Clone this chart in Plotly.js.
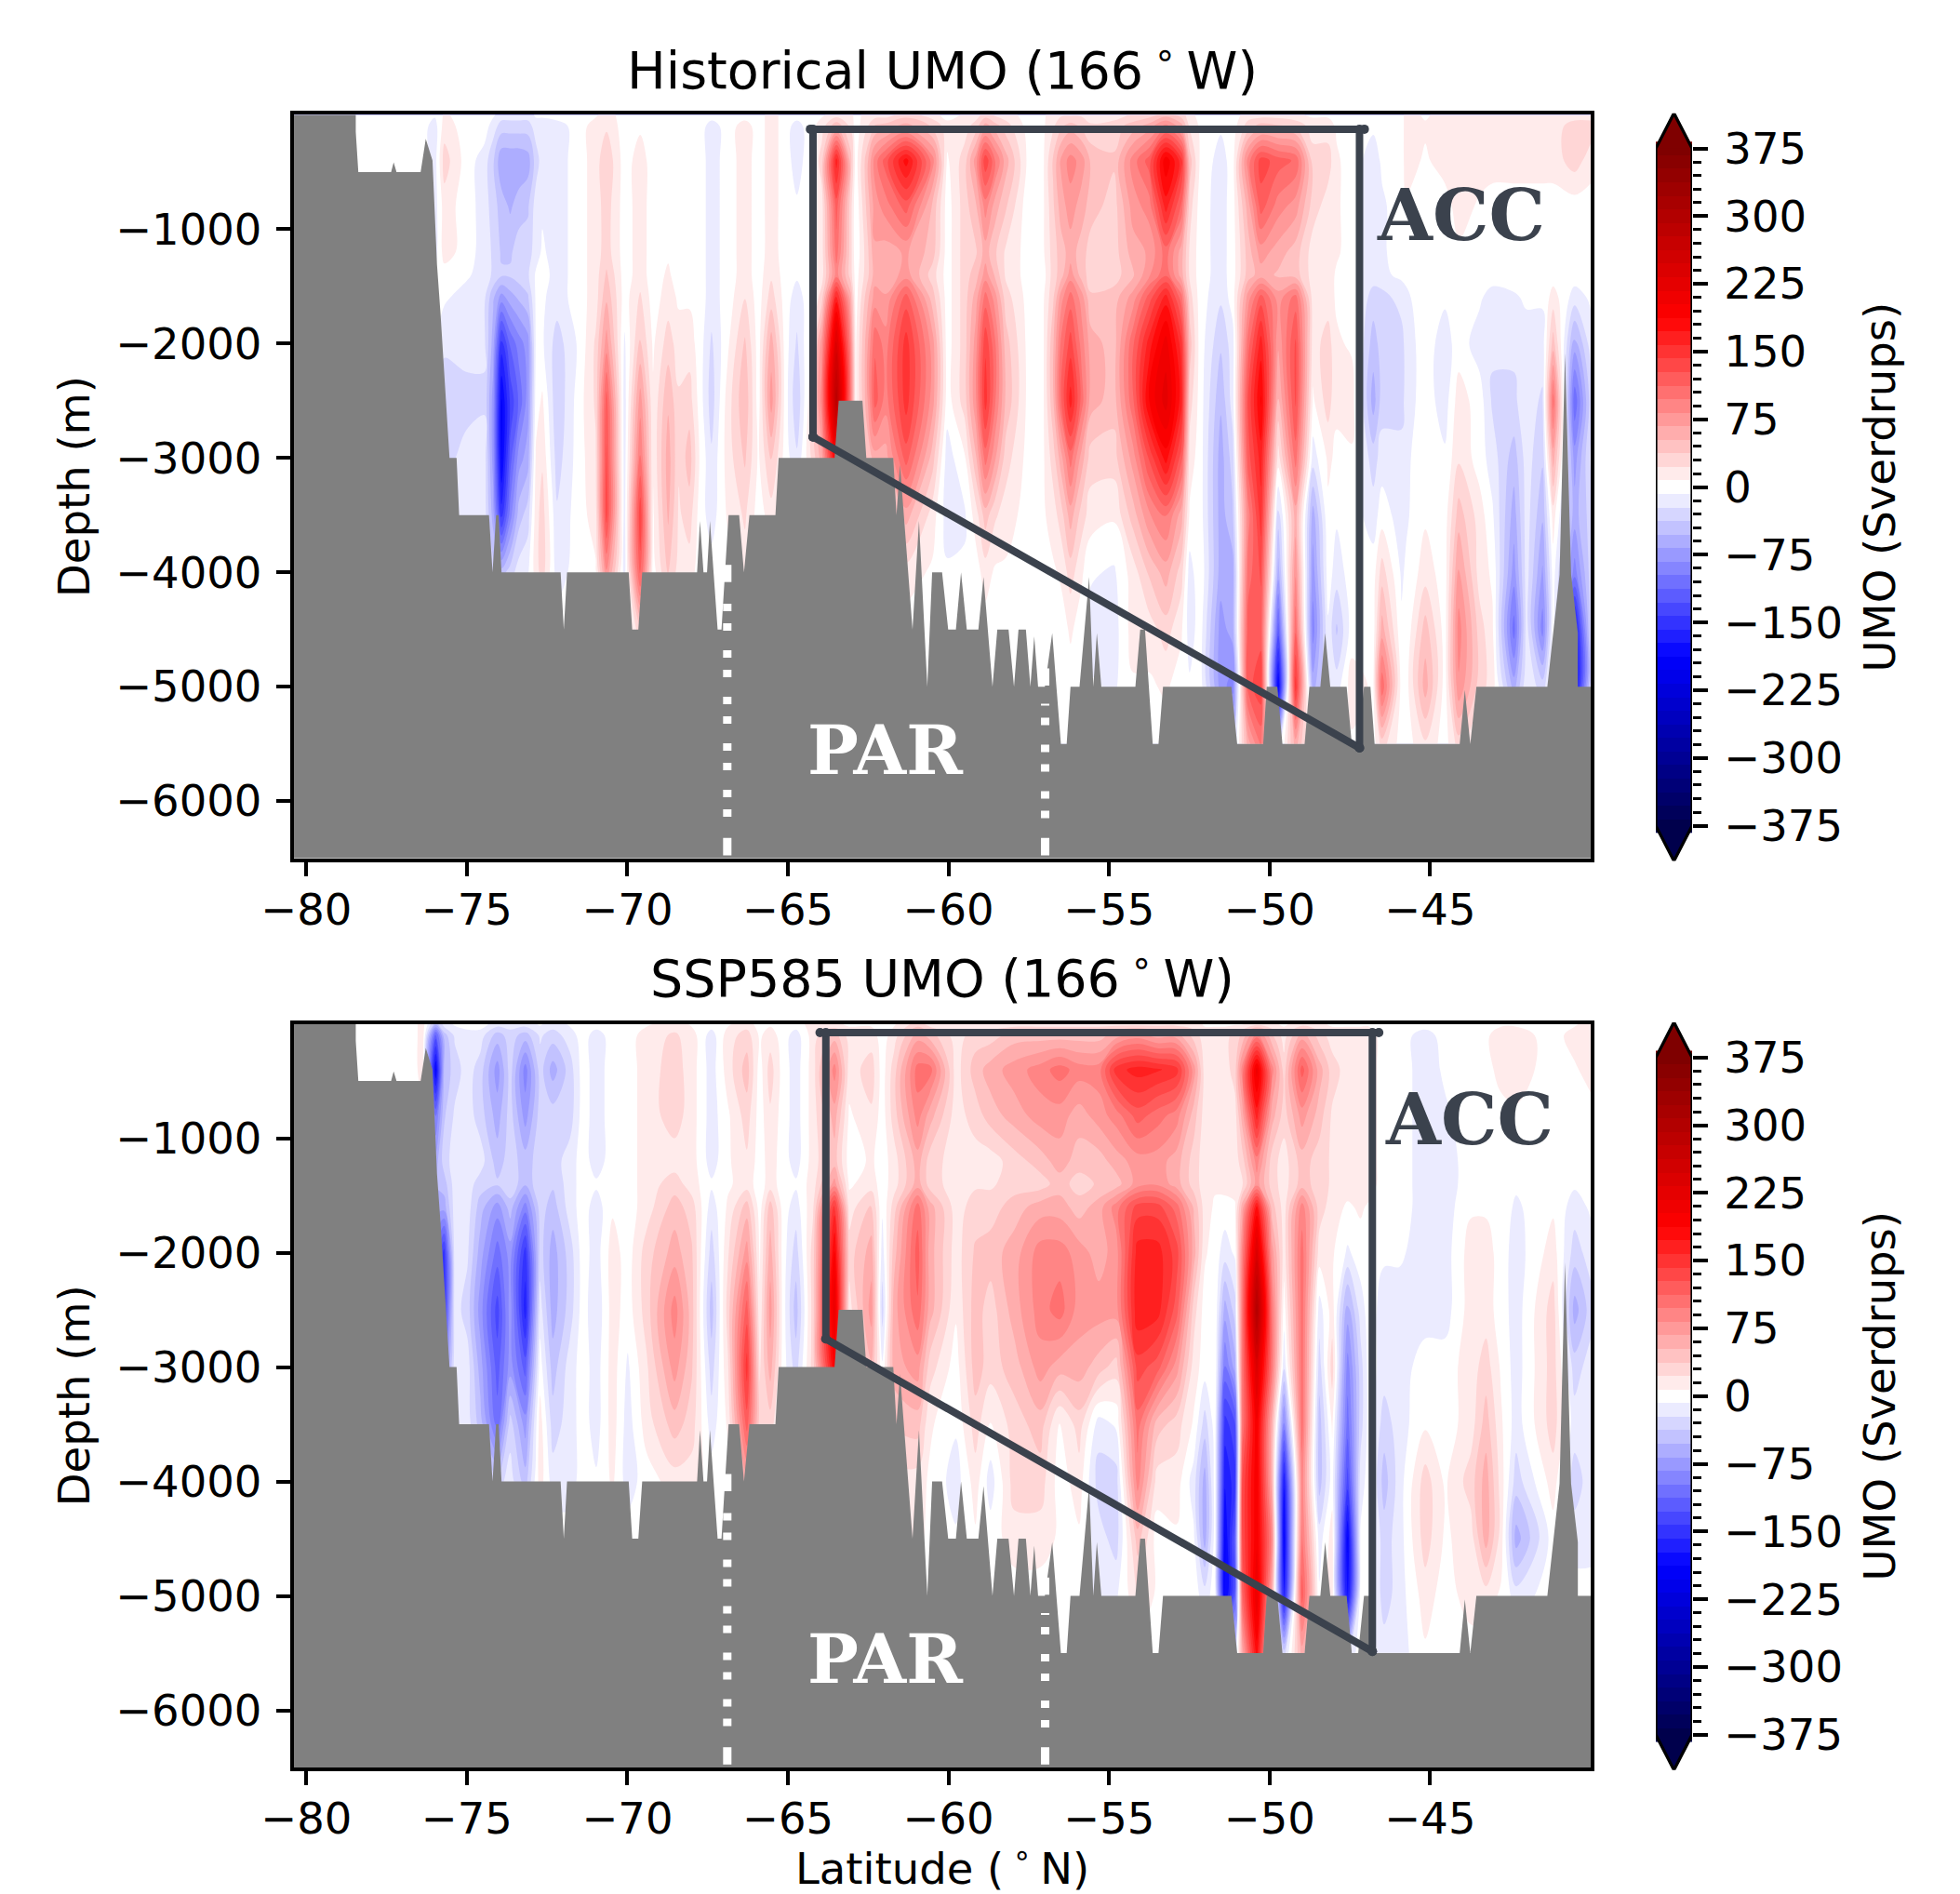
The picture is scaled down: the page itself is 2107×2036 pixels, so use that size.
<!DOCTYPE html>
<html><head><meta charset="utf-8">
<script src="https://cdn.plot.ly/plotly-3.0.1.min.js"></script>
<style>html,body{margin:0;padding:0;background:#fff}</style>
</head><body><div id="chart" style="width:2107px;height:2036px"></div>
<script>
// ---- data ----
const depthLevels = [0,-100,-400,-800,-1200,-1400,-1600,-2000,-2500,-3000,-3500,-4000,-4500,-5000,-5500];

const histLat = [-80.5,-76.4,-76.0,-75.7,-75.0,-74.45,-74.18,-73.92,-73.65,-73.38,-73.1,-72.85,-72.65,-72.19,-71.52,-70.99,-70.65,-70.09,-69.6,-69.2,-68.73,-68.4,-68.07,-67.74,-67.38,-66.87,-66.34,-65.92,-65.52,-65.08,-64.72,-64.35,-63.95,-63.49,-63.05,-62.89,-62.55,-62.29,-61.96,-61.32,-60.5,-60.04,-59.5,-59.15,-58.85,-58.55,-58.22,-57.48,-57.05,-56.74,-56.5,-56.2,-55.85,-55.57,-54.85,-54.25,-53.75,-53.23,-52.75,-52.49,-52.16,-51.52,-51.15,-50.67,-50.27,-49.73,-49.19,-48.65,-48.18,-47.91,-47.44,-46.77,-46.5,-45.89,-45.75,-45.15,-44.54,-44.11,-43.46,-43.06,-42.39,-42.0,-41.5,-41.17,-40.5,-40];
const histColumns = [
[0,0,0,0,0,0,0,0,0,0,0,0,0,0,0],
[0,0,0,0,0,0,0,0,0,0,0,0,0,0,0],
[-5,-15,-15,-15,-15,-5,-5,-5,0,0,0,0,0,0,0],
[10,15,30,15,15,0,-5,-20,-30,-30,-15,0,0,0,0],
[0,0,0,0,0,-5,-15,-15,-30,-15,-15,-15,0,0,0],
[0,0,-15,-15,-15,-15,-20,-20,-25,-15,-15,-15,0,0,0],
[-5,-15,-35,-30,-25,-25,-50,-60,-75,-75,-60,-30,0,0,0],
[-15,-30,-65,-45,-40,-35,-75,-150,-190,-190,-150,-45,0,0,0],
[-15,-30,-65,-55,-40,-35,-60,-110,-140,-120,-90,-30,0,0,0],
[-15,-30,-65,-45,-30,-30,-50,-90,-110,-75,-45,-15,0,0,0],
[-15,-30,-60,-40,-30,-25,-40,-75,-75,-60,-30,-10,0,0,0],
[-5,-15,-30,-15,-15,-5,-5,-5,0,10,15,15,0,0,0],
[-5,-15,-15,-10,-5,0,-5,-5,10,20,30,30,0,0,0],
[0,-15,-15,-15,-15,-15,-15,-30,-35,-30,-20,-15,0,0,0],
[0,0,0,0,0,0,0,-5,0,0,0,0,0,0,0],
[5,15,15,15,15,15,15,25,25,20,15,5,0,0,0],
[15,20,35,30,30,40,50,75,120,130,135,80,0,0,0],
[0,0,0,0,0,0,0,-10,-15,-15,-15,-15,0,0,0],
[0,5,15,15,15,15,25,40,75,100,140,120,30,0,0],
[0,0,0,0,0,0,0,5,10,10,5,0,0,0,0],
[0,0,0,0,5,10,15,30,50,60,55,40,0,0,0],
[0,0,0,0,0,0,5,15,25,25,20,15,0,0,0],
[0,0,0,0,0,0,5,15,30,45,30,15,0,0,0],
[0,0,0,0,0,0,0,0,0,5,0,0,0,0,0],
[0,-15,-15,-15,-15,-15,-15,-25,-30,-20,-15,0,0,0,0],
[0,0,0,0,0,0,0,5,15,15,10,0,0,0,0],
[0,15,15,15,15,15,22,40,50,40,25,15,0,0,0],
[0,0,0,0,0,0,0,0,0,5,0,0,0,0,0],
[15,15,15,15,15,20,30,60,75,40,15,0,0,0,0],
[0,0,0,0,0,0,0,0,0,0,0,0,0,0,0],
[0,-15,-15,-5,-5,-5,-15,-25,-35,-20,0,0,0,0,0],
[0,0,0,0,0,0,0,5,10,15,5,0,0,0,0],
[5,15,30,15,15,15,30,75,90,60,15,0,0,0,0],
[15,50,165,120,105,90,165,240,290,200,100,0,0,0,0],
[15,20,45,30,30,30,60,90,100,60,15,0,0,0,0],
[0,0,0,-5,-5,0,0,5,5,5,0,0,0,0,0],
[15,20,45,40,30,30,45,60,60,40,10,0,0,0,0],
[15,40,90,75,65,60,75,110,120,60,15,0,0,0,0],
[15,45,120,90,60,55,70,90,90,60,15,0,0,0,0],
[30,60,180,120,70,75,120,150,150,120,60,15,0,0,0],
[15,35,90,50,45,30,45,75,75,45,15,5,0,0,0],
[0,15,5,0,0,0,0,0,0,-15,-15,-5,0,0,0],
[10,15,30,30,30,30,30,30,30,5,-10,-5,0,0,0],
[15,30,75,50,35,45,60,75,80,50,15,0,0,0,0],
[30,60,140,90,60,75,105,140,150,105,45,15,0,0,0],
[20,45,100,60,40,50,75,100,100,70,25,5,0,0,0],
[15,30,60,40,20,20,30,45,50,30,15,5,0,0,0],
[0,0,0,-5,0,0,0,0,0,0,0,0,0,0,0],
[5,5,5,5,5,0,5,5,5,5,5,0,0,0,0],
[15,20,40,35,30,30,35,50,50,30,15,5,0,0,0],
[20,35,70,60,45,45,75,100,110,60,30,10,0,0,0],
[20,45,90,75,60,75,105,135,165,105,60,30,10,0,0],
[20,35,75,60,45,45,75,90,105,60,30,10,0,0,0],
[15,25,50,45,30,30,40,60,60,30,15,-5,-15,-5,0],
[15,30,40,30,30,30,45,45,45,30,10,-10,-15,-10,0],
[25,45,90,75,60,50,75,110,110,75,45,15,15,5,0],
[30,60,120,90,70,80,120,165,190,130,80,40,15,5,0],
[45,90,200,165,105,110,165,210,225,180,100,60,30,10,0],
[30,60,150,110,60,60,105,150,165,120,60,30,10,0,0],
[15,20,45,30,20,20,30,45,30,15,5,-15,-15,-5,0],
[0,5,5,0,0,0,0,0,0,0,0,5,0,0,0],
[0,-5,-15,-15,-15,-15,-20,-35,-50,-60,-60,-60,-75,-75,-15],
[0,0,0,0,0,0,0,-15,-15,-30,-40,-60,-60,-90,-30],
[15,30,90,60,45,45,75,105,130,120,90,105,120,120,60],
[15,45,135,120,75,60,120,165,190,165,150,130,120,140,100],
[15,40,120,90,60,50,75,70,50,15,-30,-60,-120,-190,-20],
[10,35,110,75,45,45,105,130,130,105,60,80,110,150,60],
[5,15,30,30,15,15,15,15,5,-15,-60,-75,-90,-60,-5],
[5,15,30,15,15,15,15,30,30,10,5,0,-10,-15,0],
[0,5,10,10,10,5,5,10,10,5,-5,-15,-40,-15,0],
[0,0,0,0,0,0,0,5,15,5,0,0,0,15,5],
[0,-5,-15,-15,-15,-15,-30,-45,-60,-30,-15,0,0,5,0],
[0,0,-5,-10,-10,-10,-30,-30,-30,-15,0,30,60,110,30],
[0,0,0,0,0,-5,-15,-30,-30,-15,-15,-10,-5,0,0],
[15,15,15,5,0,-5,-10,-15,-15,-10,-10,-5,-5,0,0],
[5,10,5,0,0,0,0,0,0,0,5,15,45,60,20],
[15,15,15,0,0,0,-5,-15,-15,-5,0,0,0,0,0],
[15,15,15,15,5,0,0,0,15,20,45,70,90,80,30],
[15,15,15,5,0,0,-5,-15,0,0,15,15,30,30,5],
[15,15,15,0,0,0,-15,-20,-25,-15,-5,5,10,15,0],
[15,15,15,0,0,0,-10,-20,-25,-45,-60,-75,-105,-60,0],
[15,15,15,0,0,0,-5,-15,-15,-15,-15,-15,-15,-10,0],
[15,15,15,0,0,0,-5,-15,-25,-35,-50,-70,-90,-30,0],
[15,15,15,0,0,0,15,45,105,60,15,0,0,0,0],
[15,30,30,0,0,0,-15,-60,-110,-75,-60,-90,-180,-190,0],
[15,30,15,0,0,0,-5,-15,-30,-20,-30,-30,-30,-30,0]
];

const sspLat = [-80.5,-76.7,-76.37,-75.97,-75.71,-75.38,-74.98,-74.58,-74.05,-73.65,-73.18,-72.72,-72.32,-71.79,-71.39,-70.97,-70.46,-69.99,-69.4,-68.53,-68.0,-67.38,-66.87,-66.28,-65.88,-65.55,-65.15,-64.75,-64.22,-63.55,-63.09,-62.4,-62.06,-61.7,-60.96,-60.58,-59.77,-59.16,-58.69,-57.95,-57.14,-56.54,-55.93,-55.32,-54.78,-54.11,-53.5,-52.9,-52.36,-52.02,-51.7,-51.39,-51.08,-50.85,-50.4,-49.93,-49.55,-48.99,-48.45,-48.05,-47.57,-47.17,-46.9,-46.43,-45.96,-45.15,-44.54,-43.73,-43.26,-42.79,-42.32,-41.17,-40.5,-40];
const sspColumns = [
[0,0,0,0,0,0,0,0,0,0,0,0,0,0,0],
[0,0,0,0,0,0,0,0,0,0,0,0,0,0,0],
[15,15,15,5,0,0,0,0,0,0,0,0,0,0,0],
[-45,-120,-190,-100,-60,-50,-60,-100,-120,-90,0,0,0,0,0],
[-15,-45,-50,-40,-30,-45,-60,-150,-150,-90,-30,0,0,0,0],
[-5,-20,-30,-20,-15,-15,-15,-15,-15,-15,-15,0,0,0,0],
[0,-15,-15,-15,-15,-15,-15,-20,-30,-15,-15,-5,0,0,0],
[0,-15,-30,-30,-15,-30,-45,-60,-75,-60,-45,-15,0,0,0],
[-15,-45,-75,-60,-45,-35,-75,-105,-135,-120,-105,-30,0,0,0],
[-15,-30,-30,-30,-30,-25,-45,-75,-75,-75,-30,-15,0,0,0],
[-15,-45,-90,-75,-45,-50,-90,-150,-165,-120,-75,-45,0,0,0],
[-5,-20,-30,-30,-30,-25,-30,-30,-15,0,15,15,0,0,0],
[-15,-30,-60,-30,-30,-35,-45,-60,-60,-45,-30,-15,0,0,0],
[-5,-15,-30,-30,-15,-15,-15,-30,-30,-15,-15,-15,0,0,0],
[0,0,0,0,0,0,0,0,0,0,0,0,0,0,0],
[0,-15,-15,-15,-15,-5,-15,-15,-20,-15,-15,-5,0,0,0],
[0,0,0,0,0,0,5,15,15,15,15,10,0,0,0],
[0,0,0,0,0,0,0,0,0,-10,-15,-15,0,0,0],
[5,15,15,15,15,15,15,30,30,20,15,0,0,0,0],
[15,25,30,30,15,30,45,60,90,75,45,15,0,0,0],
[5,15,15,15,15,15,30,40,45,40,30,15,0,0,0],
[0,-15,-15,-15,-15,-5,-15,-30,-45,-30,-15,0,0,0,0],
[5,15,15,5,5,5,10,20,30,20,10,0,0,0,0],
[15,30,45,30,20,15,45,75,120,150,120,60,15,0,0],
[0,5,0,0,0,0,0,5,10,20,30,0,0,0,0],
[5,15,30,20,15,15,45,60,75,60,30,10,0,0,0],
[0,0,0,0,0,0,0,0,0,0,0,0,0,0,0],
[0,-15,-15,-15,-15,-5,-15,-30,-45,-30,-15,0,0,0,0],
[15,15,15,15,15,15,20,30,30,30,30,0,0,0,0],
[10,45,90,60,45,75,150,190,220,190,60,0,0,0,0],
[5,15,15,5,0,5,15,30,15,5,0,0,0,0,0],
[5,15,30,20,10,15,40,60,75,50,15,0,0,0,0],
[0,0,0,0,0,0,-5,-15,-30,-5,0,0,0,0,0],
[5,15,30,30,15,15,30,45,60,60,40,15,0,0,0],
[30,60,105,90,60,60,105,120,110,75,45,15,15,0,0],
[15,45,105,60,30,30,60,60,60,30,10,5,0,0,0],
[10,15,15,15,15,15,15,15,10,0,-5,-15,-5,0,0],
[15,30,45,30,15,20,30,40,45,45,30,15,5,0,0],
[15,30,60,45,15,20,30,45,30,30,5,-15,0,0,0],
[15,45,75,60,30,30,45,60,60,45,30,30,15,0,0],
[15,45,90,75,45,30,60,90,90,75,45,30,15,0,0],
[15,45,105,75,60,45,60,90,105,60,5,0,5,0,0],
[15,45,90,60,45,30,45,75,75,60,30,15,5,0,0],
[15,45,90,75,45,40,60,60,75,45,-15,-30,-15,-10,0],
[15,60,150,90,60,45,90,75,75,30,-5,-30,-30,-10,0],
[15,75,165,120,75,75,135,165,170,135,105,90,45,20,0],
[15,60,160,105,75,80,135,165,165,120,45,15,0,5,0],
[15,60,150,90,60,60,105,135,120,75,30,15,5,0,0],
[15,30,75,45,30,30,50,60,30,15,5,-15,-5,0,0],
[5,15,15,15,15,15,15,10,0,0,-30,-60,-60,-15,0],
[5,15,15,15,15,10,5,0,5,5,0,0,0,0,0],
[5,15,15,15,15,15,0,-15,-60,-100,-150,-170,-190,-190,-20],
[5,30,30,15,15,15,5,-5,-30,-60,-130,-150,-120,-120,-30],
[5,40,90,60,30,20,60,90,100,100,100,130,130,110,60],
[15,90,210,165,90,75,175,240,300,240,200,200,200,215,180],
[10,40,90,60,30,30,45,75,100,100,60,60,90,60,10],
[5,15,30,30,15,15,15,15,0,-20,-90,-170,-190,-170,-30],
[15,60,120,75,45,45,90,105,105,105,105,90,100,120,60],
[10,30,60,45,30,30,30,15,-15,-30,-45,-45,-15,-5,0],
[5,15,30,20,20,20,15,10,15,30,10,0,15,15,0],
[5,15,15,15,15,15,5,-10,-60,-90,-105,-135,-190,-180,-20],
[5,15,15,15,15,15,10,0,-15,-30,-30,-15,-5,0,0],
[5,15,15,15,15,15,5,0,0,0,0,0,0,0,0],
[0,0,0,0,0,0,0,-5,-15,-15,-30,-45,-30,-30,-15],
[0,0,0,0,0,0,0,-5,-15,-15,-15,-15,-15,-15,-15],
[0,-15,-15,-15,-15,-15,-15,-15,-15,0,5,30,30,15,5],
[0,0,-5,-10,-15,-15,-15,-15,-15,0,0,5,5,0,0],
[5,5,0,0,0,0,5,15,15,15,15,30,15,15,0],
[5,5,0,0,0,0,5,15,15,30,45,60,60,15,0],
[5,15,15,0,0,0,0,0,0,5,10,15,15,5,0],
[5,15,15,5,0,-5,-10,-15,-15,-15,-15,-30,-60,-15,0],
[0,0,0,0,0,0,5,15,30,30,30,15,0,0,0],
[5,15,5,0,0,-5,-15,-30,-60,-30,-15,-30,-15,0,0],
[15,15,15,0,0,0,-5,-15,-30,-15,-15,-15,-15,0,0]
];

// sea floor outline (shared by both panels)
const floorLat = [-80.5,-78.46,-78.46,-78.38,-77.36,-77.28,-77.19,-76.44,-76.28,-76.07,-75.93,-75.82,-75.54,-75.32,-75.24,-74.31,-74.2,-74.09,-74.01,-73.92,-72.08,-71.98,-71.88,-69.96,-69.85,-69.66,-69.54,-67.83,-67.74,-67.63,-67.52,-67.43,-67.19,-67.07,-66.85,-66.52,-66.37,-66.2,-65.39,-65.29,-63.55,-63.42,-62.68,-62.56,-61.72,-61.62,-61.51,-61.12,-60.92,-60.66,-60.51,-60.2,-60.01,-59.77,-59.61,-59.43,-59.07,-58.91,-58.63,-58.48,-58.13,-57.96,-57.82,-57.59,-57.45,-57.33,-57.21,-57.0,-56.77,-56.5,-56.32,-56.2,-55.92,-55.62,-55.49,-55.38,-55.24,-54.18,-54.03,-53.88,-53.64,-53.46,-53.32,-51.19,-51.01,-50.2,-50.09,-49.76,-49.6,-48.91,-48.76,-48.42,-48.27,-48.11,-47.6,-47.44,-47.24,-47.06,-46.86,-46.73,-44.08,-43.92,-43.75,-43.56,-41.35,-40.97,-40.8,-40.61,-40.4,-40.4,-39.9,-39.9,-80.5];
const floorDepth = [100,100,-150,-500,-500,-415,-500,-500,-210,-400,-1310,-1740,-3000,-3000,-3500,-3500,-4000,-3500,-3500,-4000,-4000,-4500,-4000,-4000,-4500,-4500,-4000,-4000,-3550,-4000,-4000,-3550,-4500,-4500,-3500,-3500,-4000,-3500,-3500,-3000,-3000,-2500,-2500,-3000,-3000,-3500,-3060,-4500,-3550,-5000,-4000,-4000,-4500,-4500,-4000,-4500,-4500,-4040,-5000,-4500,-4500,-5000,-4500,-4500,-5000,-4560,-5000,-5000,-4530,-5500,-5500,-5000,-5000,-4040,-5000,-4530,-5000,-5000,-4500,-4500,-5500,-5500,-5000,-5000,-5500,-5500,-5000,-5000,-5500,-5500,-5000,-5000,-4530,-5000,-5000,-5500,-5500,-5000,-5000,-5500,-5500,-5030,-5500,-5000,-5000,-4020,-2085,-4020,-4530,-5000,-5000,-7000,-7000];

const yTickVals = [-6000,-5000,-4000,-3000,-2000,-1000];
const xTickVals = [-80,-75,-70,-65,-60,-55,-50,-45];
const cbTickVals = [-375,-300,-225,-150,-75,0,75,150,225,300,375];
const cbMinorVals = [-360,-345,-330,-315,-285,-270,-255,-240,-210,-195,-180,-165,-135,-120,-105,-90,-60,-45,-30,-15,15,30,45,60,90,105,120,135,165,180,195,210,240,255,270,285,315,330,345,360];
const cbLevels = [-375,-360,-345,-330,-315,-300,-285,-270,-255,-240,-225,-210,-195,-180,-165,-150,-135,-120,-105,-90,-75,-60,-45,-30,-15,0,15,30,45,60,75,90,105,120,135,150,165,180,195,210,225,240,255,270,285,300,315,330,345,360,375];

// ACC box and PAR boundary lines
const histBoxLat = [-64.3,-47.05,null,-47.2,-47.2,null,-47.2,-64.22,null,-64.22,-64.22];
const histBoxDepth = [-126,-126,null,-126,-5535,null,-5535,-2816,null,-2816,-126];
const sspBoxLat = [-64.0,-46.6,null,-46.8,-46.8,null,-46.8,-63.82,null,-63.82,-63.82];
const sspBoxDepth = [-77,-77,null,-77,-5486,null,-5486,-2754,null,-2754,-77];
const parWestLat = -66.89, parEastLat = -56.99;

// ---- styles ----
const seismic = [[0,'rgb(0,0,76)'],[0.25,'rgb(0,0,255)'],[0.5,'rgb(255,255,255)'],[0.75,'rgb(255,0,0)'],[1,'rgb(127,0,0)']];
const SLATE = '#3b424d', FS = 46.5, W = 2107, H = 2036;
const FONT = 'DejaVu Sans, sans-serif', SERIF = 'DejaVu Serif, serif';
const transpose = cols => cols[0].map((_, r) => cols.map(c => c[r]));

function panel(lat, cols, boxLat, boxDepth, xa, ya) {
  const base = {xaxis: xa, yaxis: ya, showlegend: false, hoverinfo: 'skip'};
  const tr = [];
  tr.push({...base, type: 'contour', x: lat, y: depthLevels, z: transpose(cols),
    colorscale: seismic, zmin: -375, zmax: 375, autocontour: false, showscale: false,
    contours: {coloring: 'fill', start: -367.5, end: 367.5, size: 15, showlines: false},
    line: {width: 0}});
  tr.push({...base, type: 'scatter', mode: 'lines', x: floorLat, y: floorDepth, fill: 'toself',
    fillcolor: '#808080', line: {width: 0, color: '#808080'}});
  tr.push({...base, type: 'scatter', mode: 'lines+markers', x: boxLat, y: boxDepth, connectgaps: false,
    line: {color: SLATE, width: 8}, marker: {color: SLATE, size: 10}});
  [[parWestLat,-6138,-4257,-6474,-6323,-4085,-3935],[parEastLat,-6150,-5150,-6474,-6323,-4990,-4840]].forEach(p => {
    tr.push({...base, type: 'scatter', mode: 'lines', x: [p[0],p[0]], y: [p[1],p[2]],
      line: {color: '#fff', width: 9, dash: '8px,13px,8px,21px'}});
    tr.push({...base, type: 'scatter', mode: 'lines', x: [p[0],p[0],null,p[0],p[0]], y: [p[3],p[4],null,p[5],p[6]],
      connectgaps: false, line: {color: '#fff', width: 9}});
  });
  return tr;
}
function colorbar(xa, ya) {
  const base = {xaxis: xa, yaxis: ya, showlegend: false, hoverinfo: 'skip'};
  return [
    {...base, type: 'heatmap', x: [0.5], y: cbLevels, z: cbLevels.map(v => [v]), colorscale: seismic, zmin: -375, zmax: 375, showscale: false, xgap: 0, ygap: 0},
    {...base, type: 'scatter', mode: 'lines', x: [0,0.5,1,0], y: [375,414,375,375], fill: 'toself', fillcolor: 'rgb(127,0,0)', line: {width: 0}},
    {...base, type: 'scatter', mode: 'lines', x: [0,0.5,1,0], y: [-375,-414,-375,-375], fill: 'toself', fillcolor: 'rgb(0,0,76)', line: {width: 0}},
    {...base, type: 'scatter', mode: 'lines', x: [0,0,0.5,1,1,0.5,0], y: [-375,375,414,375,-375,-414,-375], line: {color: '#000', width: 3.3}, cliponaxis: false}
  ];
}
const data = [
  ...panel(histLat, histColumns, histBoxLat, histBoxDepth, 'x', 'y'),
  ...panel(sspLat, sspColumns, sspBoxLat, sspBoxDepth, 'x2', 'y2'),
  ...colorbar('x3', 'y3'),
  ...colorbar('x4', 'y4')
];

const py = p => 1 - p / H, px = p => p / W;
const mainX = (anchor, title) => {
  const a = {anchor, domain: [px(316), px(1710)], range: [-80.385, -40], tickmode: 'array', tickvals: xTickVals,
  ticks: 'outside', ticklen: 15.5, tickwidth: 3.5, tickcolor: '#000', showline: true, mirror: true, linewidth: 3.5, linecolor: '#000',
  showgrid: false, zeroline: false, ticklabelstandoff: -4, tickfont: {family: FONT, size: FS, color: '#000'}};
  if (title) a.title = title;
  return a;
};
const mainY = (anchor, top, bot) => ({anchor, domain: [py(bot), py(top)], range: [-6500, 0], tickmode: 'array', tickvals: yTickVals,
  ticks: 'outside', ticklen: 15.5, tickwidth: 3.5, tickcolor: '#000', showline: true, mirror: true, linewidth: 3.5, linecolor: '#000',
  showgrid: false, zeroline: false, ticklabelstandoff: 6, tickfont: {family: FONT, size: FS, color: '#000'},
  title: {text: 'Depth (m)', font: {family: FONT, size: FS, color: '#000'}, standoff: 14}});
const cbX = anchor => ({anchor, domain: [px(1780), px(1819)], range: [0, 1], visible: false, fixedrange: true});
const cbY = (anchor, top, bot) => ({anchor, side: 'right', domain: [py(bot), py(top)], range: [-414, 414], tickmode: 'array', tickvals: cbTickVals,
  ticks: 'outside', ticklen: 16, tickwidth: 3.5, tickcolor: '#000', showgrid: false, zeroline: false, showline: false, ticklabelstandoff: 8,
  minor: {tickmode: 'array', tickvals: cbMinorVals, ticks: 'outside', ticklen: 9, tickwidth: 2.5, tickcolor: '#000', showgrid: false},
  tickfont: {family: FONT, size: FS, color: '#000'},
  title: {text: 'UMO (Sverdrups)', font: {family: FONT, size: FS, color: '#000'}, standoff: 24}});
const label = (text, x, y, size, color, xref, yref) => ({text: '<b>' + text + '</b>', x, y, xref, yref, showarrow: false, xanchor: 'center', yanchor: 'middle', font: {family: SERIF, size, color}});
const title = (text, cx, cy) => ({text, x: px(cx), y: py(cy), xref: 'paper', yref: 'paper', xanchor: 'center', yanchor: 'middle', showarrow: false, font: {family: FONT, size: 55.5, color: '#000'}});

const layout = {
  width: W, height: H, margin: {l: 0, r: 0, t: 0, b: 0}, paper_bgcolor: '#fff', plot_bgcolor: '#fff',
  xaxis: mainX('y'),
  yaxis: mainY('x', 123.4, 922.6),
  xaxis2: mainX('y2', {text: 'Latitude (\u2009<sup>∘</sup>\u2009N)', font: {family: FONT, size: FS, color: '#000'}, standoff: 30}),
  yaxis2: mainY('x2', 1100.6, 1900),
  xaxis3: cbX('y3'), yaxis3: cbY('x3', 121.7, 925.5),
  xaxis4: cbX('y4'), yaxis4: cbY('x4', 1098.9, 1902.7),
  annotations: [
    title('Historical UMO (166\u2009<sup>∘</sup>\u2009W)', 1013, 72),
    title('SSP585 UMO (166\u2009<sup>∘</sup>\u2009W)', 1013, 1048),
    label('ACC', -44.05, -880, 76, SLATE, 'x', 'y'),
    label('PAR', -61.95, -5550, 73, '#fff', 'x', 'y'),
    label('ACC', -43.78, -840, 76, SLATE, 'x2', 'y2'),
    label('PAR', -61.95, -5550, 73, '#fff', 'x2', 'y2')
  ]
};
Plotly.newPlot('chart', data, layout, {displayModeBar: false});
</script></body></html>
